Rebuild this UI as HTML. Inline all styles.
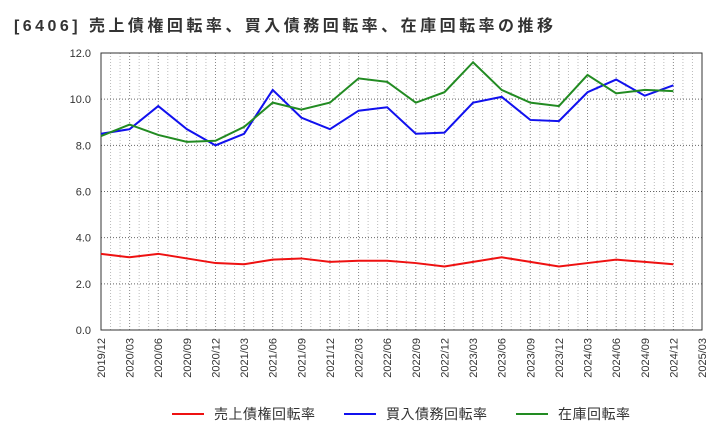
<!DOCTYPE html>
<html><head><meta charset="utf-8"><style>
body{margin:0;background:#fff;width:720px;height:440px;overflow:hidden;font-family:"Liberation Sans","Noto Sans CJK JP",sans-serif;}
</style></head><body>
<svg id="chart" width="720" height="440" xmlns="http://www.w3.org/2000/svg" font-family="'Liberation Sans','Noto Sans CJK JP',sans-serif">
<text x="14" y="31" font-size="16" font-weight="bold" fill="#333" textLength="539" lengthAdjust="spacing">[6406]  売上債権回転率、買入債務回転率、在庫回転率の推移</text>
<g id="grid"></g><g id="axes"></g><g id="series"></g>
<g>
<line x1="172" y1="414" x2="204" y2="414" stroke="#ee1111" stroke-width="2"/>
<text x="214" y="419" font-size="14" fill="#333" textLength="101">売上債権回転率</text>
<line x1="344" y1="414" x2="376" y2="414" stroke="#1111ee" stroke-width="2"/>
<text x="386" y="419" font-size="14" fill="#333" textLength="101">買入債務回転率</text>
<line x1="516" y1="414" x2="548" y2="414" stroke="#228b22" stroke-width="2"/>
<text x="558" y="419" font-size="14" fill="#333" textLength="72">在庫回転率</text>
</g>
</svg>
<script>
const categories=["2019/12","2020/03","2020/06","2020/09","2020/12","2021/03","2021/06","2021/09","2021/12","2022/03","2022/06","2022/09","2022/12","2023/03","2023/06","2023/09","2023/12","2024/03","2024/06","2024/09","2024/12","2025/03"];
const yTicks=[0,2,4,6,8,10,12];
const receivables=[3.3,3.15,3.3,3.1,2.9,2.85,3.05,3.1,2.95,3.0,3.0,2.9,2.75,2.95,3.15,2.95,2.75,2.9,3.05,2.95,2.85];
const payables=[8.5,8.7,9.7,8.7,8.0,8.5,10.4,9.2,8.7,9.5,9.65,8.5,8.55,9.85,10.1,9.1,9.05,10.3,10.85,10.15,10.6];
const inventory=[8.4,8.9,8.45,8.15,8.2,8.8,9.85,9.55,9.85,10.9,10.75,9.85,10.3,11.6,10.4,9.85,9.7,11.05,10.25,10.4,10.35];
const NS="http://www.w3.org/2000/svg";
const L=101,R=702,T=53,B=330,yMax=12;
const x=i=>L+(R-L)*i/(categories.length-1);
const y=v=>B-(B-T)*v/yMax;
function mk(tag,attrs,parent){const e=document.createElementNS(NS,tag);for(const k in attrs)e.setAttribute(k,attrs[k]);parent.appendChild(e);return e;}
const grid=document.getElementById('grid'),axes=document.getElementById('axes'),ser=document.getElementById('series');
for(let m=1;m<(categories.length-1)*3;m++){if(m%3===0)continue;const xx=L+(R-L)*m/((categories.length-1)*3);const g=mk('line',{x1:xx,x2:xx,y1:T,y2:B,stroke:'#bbb','stroke-dasharray':'1,2','stroke-width':1},grid);}
categories.forEach((c,i)=>{const g=mk('line',{x1:x(i),x2:x(i),y1:T,y2:B,stroke:'#888','stroke-dasharray':'1,2','stroke-width':1},grid);
const t=mk('text',{x:0,y:0,'font-size':11,fill:'#333','text-anchor':'end',transform:`translate(${x(i)+4},${B+8}) rotate(-90)`},axes);t.textContent=c;});
yTicks.forEach(v=>{const g=mk('line',{x1:L,x2:R,y1:y(v),y2:y(v),stroke:'#666','stroke-dasharray':'1,2','stroke-width':1},grid);
const t=mk('text',{x:L-10,y:y(v)+4,'font-size':11,fill:'#333','text-anchor':'end'},axes);t.textContent=v.toFixed(1);});
const fr=mk('rect',{x:L,y:T,width:R-L,height:B-T,fill:'none',stroke:'#333','stroke-width':1},axes);

[[receivables,'#ee1111','receivables-line'],[payables,'#1111ee','payables-line'],[inventory,'#228b22','inventory-line']].forEach(([d,c,n])=>{
const p=mk('polyline',{points:d.map((v,i)=>x(i)+','+y(v)).join(' '),fill:'none',stroke:c,'stroke-width':2},ser);
});
</script>
</body></html>
